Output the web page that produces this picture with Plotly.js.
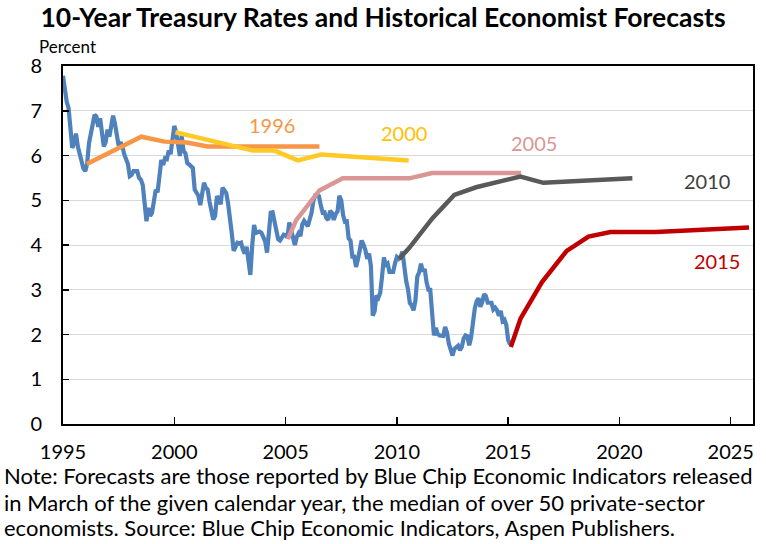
<!DOCTYPE html>
<html>
<head>
<meta charset="utf-8">
<script src="https://cdn.plot.ly/plotly-3.0.1.min.js"></script>
<style>
  html, body { margin: 0; padding: 0; background: #ffffff; }
  #chart { width: 766px; height: 544px; }
</style>
</head>
<body>
<div id="chart"></div>
<script>
// ---- Data ----
const rateStartYear = 1995; // monthly observations from January 1995
const rates1995 = [7.78, 7.47, 7.20, 7.06, 6.63, 6.17, 6.28, 6.49, 6.20, 6.04, 5.93, 5.71];
const rates1996 = [5.65, 5.81, 6.27, 6.51, 6.74, 6.91, 6.87, 6.64, 6.83, 6.53, 6.20, 6.30];
const rates1997 = [6.58, 6.42, 6.69, 6.89, 6.71, 6.49, 6.22, 6.30, 6.21, 6.03, 5.88, 5.81];
const rates1998 = [5.54, 5.57, 5.65, 5.64, 5.65, 5.50, 5.46, 5.34, 4.81, 4.53, 4.83, 4.65];
const rates1999 = [4.72, 5.00, 5.23, 5.18, 5.54, 5.90, 5.79, 5.94, 5.92, 6.11, 6.03, 6.28];
const rates2000 = [6.66, 6.52, 6.26, 5.99, 6.44, 6.10, 6.05, 5.83, 5.80, 5.74, 5.72, 5.24];
const rates2001 = [5.16, 5.10, 4.89, 5.14, 5.39, 5.28, 5.24, 4.97, 4.73, 4.57, 4.65, 5.09];
const rates2002 = [5.04, 4.91, 5.28, 5.21, 5.16, 4.93, 4.65, 4.26, 3.87, 3.94, 4.05, 4.03];
const rates2003 = [4.05, 3.90, 3.81, 3.96, 3.57, 3.33, 3.98, 4.45, 4.27, 4.29, 4.30, 4.27];
const rates2004 = [4.15, 4.08, 3.83, 4.35, 4.72, 4.73, 4.50, 4.28, 4.13, 4.10, 4.19, 4.23];
const rates2005 = [4.22, 4.17, 4.50, 4.34, 4.14, 4.00, 4.18, 4.26, 4.20, 4.46, 4.54, 4.47];
const rates2006 = [4.42, 4.57, 4.72, 4.99, 5.11, 5.11, 5.09, 4.88, 4.72, 4.73, 4.60, 4.56];
const rates2007 = [4.76, 4.72, 4.56, 4.69, 4.75, 5.10, 5.00, 4.67, 4.52, 4.53, 4.15, 4.10];
const rates2008 = [3.74, 3.74, 3.51, 3.68, 3.88, 4.10, 4.01, 3.89, 3.69, 3.81, 3.53, 2.42];
const rates2009 = [2.52, 2.87, 2.82, 2.93, 3.29, 3.72, 3.56, 3.59, 3.40, 3.39, 3.40, 3.59];
const rates2010 = [3.73, 3.69, 3.73, 3.85, 3.42, 3.20, 3.01, 2.70, 2.65, 2.54, 2.76, 3.29];
const rates2011 = [3.39, 3.58, 3.41, 3.46, 3.17, 3.00, 3.00, 2.30, 1.98, 2.15, 2.01, 1.98];
const rates2012 = [1.97, 1.97, 2.17, 2.05, 1.80, 1.62, 1.53, 1.68, 1.72, 1.75, 1.65, 1.72];
const rates2013 = [1.91, 1.98, 1.96, 1.76, 1.93, 2.30, 2.58, 2.74, 2.81, 2.62, 2.72, 2.90];
const rates2014 = [2.86, 2.71, 2.72, 2.71, 2.56, 2.60, 2.54, 2.42, 2.53, 2.30, 2.33, 2.21];
const rates2015 = [1.88, 1.78];

const f1996X = [1996.07, 1998.52, 1999.56, 2000.55, 2001.50, 2006.52];
const f1996Y = [5.81, 6.42, 6.31, 6.29, 6.20, 6.20];
const f2000X = [2000.05, 2002.48, 2003.53, 2004.50, 2005.55, 2006.60, 2010.53];
const f2000Y = [6.52, 6.22, 6.11, 6.11, 5.89, 6.02, 5.89];
const f2005X = [2005.10, 2005.47, 2006.52, 2007.57, 2010.56, 2011.58, 2015.58];
const f2005Y = [4.13, 4.55, 5.22, 5.49, 5.49, 5.61, 5.61];
const f2010X = [2010.10, 2010.55, 2011.60, 2012.58, 2013.56, 2014.55, 2015.55, 2016.58, 2020.58];
const f2010Y = [3.69, 3.93, 4.60, 5.12, 5.29, 5.41, 5.53, 5.39, 5.49];
const f2015X = [2015.12, 2015.56, 2016.52, 2017.63, 2018.61, 2019.60, 2021.63, 2025.82];
const f2015Y = [1.72, 2.36, 3.17, 3.87, 4.19, 4.29, 4.29, 4.39];

const xTicks = [1995, 2000, 2005, 2010, 2015, 2020, 2025];
const yTicks = [0, 1, 2, 3, 4, 5, 6, 7, 8];

// ---- Build ----
const rates = [].concat(rates1995, rates1996, rates1997, rates1998, rates1999, rates2000,
  rates2001, rates2002, rates2003, rates2004, rates2005, rates2006, rates2007, rates2008,
  rates2009, rates2010, rates2011, rates2012, rates2013, rates2014, rates2015);
const rateX = rates.map((_, i) => rateStartYear + i / 12);

const FONT = 'Lato, "Open Sans", sans-serif';

function fc(x, y, color) {
  return { x: x, y: y, type: 'scatter', mode: 'lines',
    line: { color: color, width: 4.5 }, hoverinfo: 'skip' };
}

const traces = [
  { x: rateX, y: rates, type: 'scatter', mode: 'lines',
    line: { color: '#4F81BD', width: 4.2 }, hoverinfo: 'skip' },
  fc(f1996X, f1996Y, '#F79646'),
  fc(f2000X, f2000Y, '#FFC926'),
  fc(f2005X, f2005Y, '#D99694'),
  fc(f2010X, f2010Y, '#595959'),
  fc(f2015X, f2015Y, '#C00000')
];

function lab(text, x, y, color) {
  return { text: text, x: x, y: y, xref: 'x', yref: 'y', showarrow: false,
    xanchor: 'center', yanchor: 'middle', font: { family: FONT, size: 20, color: color } };
}
function note(text, y) {
  return { text: text, x: -0.0885, y: y, xref: 'paper', yref: 'paper', showarrow: false,
    xanchor: 'left', yanchor: 'middle', font: { family: FONT, size: 22, color: '#000000' } };
}

const layout = {
  width: 766, height: 544,
  margin: { l: 63, r: 13, t: 66, b: 120, pad: 0 },
  paper_bgcolor: '#ffffff', plot_bgcolor: '#ffffff',
  showlegend: false,
  font: { family: FONT, size: 20, color: '#000000' },
  title: { text: '<b>10-Year Treasury Rates and Historical Economist Forecasts</b>',
    x: 0.5, xref: 'container', xanchor: 'center',
    y: 0.968, yref: 'container', yanchor: 'middle',
    font: { family: FONT, size: 26.5, color: '#000000' } },
  xaxis: { range: [1995, 2026], tickvals: xTicks, ticktext: xTicks.map(String),
    showgrid: false, zeroline: false, showline: true, mirror: true,
    linecolor: '#000000', linewidth: 2, ticks: 'inside', ticklen: 7, tickwidth: 1.5,
    tickcolor: '#000000', ticklabelstandoff: 9,
    tickfont: { family: FONT, size: 20, color: '#000000' } },
  yaxis: { range: [0, 8], tickvals: yTicks, ticktext: yTicks.map(String),
    showgrid: true, gridcolor: '#D9D9D9', gridwidth: 1, zeroline: false,
    showline: true, mirror: true, linecolor: '#000000', linewidth: 2,
    ticks: 'inside', ticklen: 6, tickwidth: 1.5, tickcolor: '#000000',
    ticklabelstandoff: 15,
    tickfont: { family: FONT, size: 20, color: '#000000' } },
  annotations: [
    { text: 'Percent', x: -0.037, y: 1.0545, xref: 'paper', yref: 'paper', showarrow: false,
      xanchor: 'left', yanchor: 'middle', font: { family: FONT, size: 17, color: '#000000' } },
    lab('1996', 2004.37, 6.69, '#F79646'),
    lab('2000', 2010.34, 6.51, '#FFC000'),
    lab('2005', 2016.18, 6.28, '#D99694'),
    lab('2010', 2023.94, 5.44, '#404040'),
    lab('2015', 2024.39, 3.65, '#C00000'),
    note('Note: Forecasts are those reported by Blue Chip Economic Indicators released', -0.145),
    note('in March of the given calendar year, the median of over 50 private-sector', -0.218),
    note('economists. Source: Blue Chip Economic Indicators, Aspen Publishers.', -0.2905)
  ]
};

Plotly.newPlot('chart', traces, layout, { displayModeBar: false, staticPlot: true });
</script>
</body>
</html>
